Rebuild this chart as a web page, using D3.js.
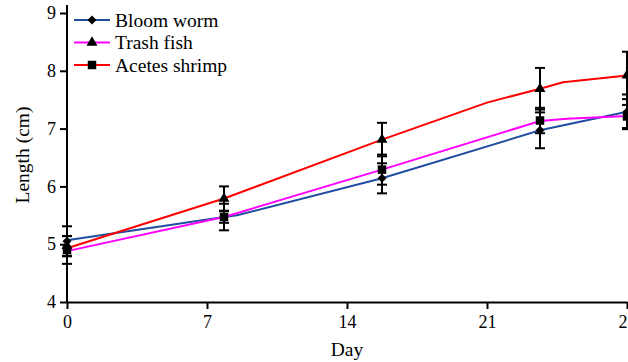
<!DOCTYPE html>
<html>
<head>
<meta charset="utf-8">
<script src="https://cdn.jsdelivr.net/npm/d3@7"></script>
<style>
  body { margin: 0; background: #fff; }
  svg text { font-family: "Liberation Serif", "DejaVu Serif", serif; }
</style>
</head>
<body>
<div id="chart"></div>
<script>
// x positions of the sampled days (markers + error bars)
const pointDays = [0, 7.85, 15.75, 23.65, 28];

// markers as drawn on the plot
const diamondVals = [5.05, 5.47, 6.14, 6.97, 7.29];
const diamondErr = [0.26, 0.1, 0.26, 0.31, 0.3];
const triangleVals = [4.97, 5.79, 6.81, 7.69, 7.92];
const triangleErr = [0.17, 0.21, 0.29, 0.36, 0.41];
const squareVals = [4.9, 5.47, 6.29, 7.14, 7.21];
const squareErr = [0.24, 0.23, 0.26, 0.22, 0.2];

// the coloured lines
const bloomDays = [0, 7.85, 8.5, 15.75, 23.65, 28];
const bloomLine = [5.07, 5.47, 5.5, 6.14, 6.97, 7.29];
const trashDays = [0, 7.85, 15.75, 23.65, 25, 28];
const trashLine = [4.88, 5.47, 6.29, 7.13, 7.17, 7.22];
const acetesDays = [0, 7.85, 15.75, 21, 23.65, 24.8, 28];
const acetesLine = [4.93, 5.79, 6.81, 7.45, 7.69, 7.8, 7.92];

const xTicks = [0, 7, 14, 21, 28];
const yTicks = [4, 5, 6, 7, 8, 9];

const legendNames = ["Bloom worm", "Trash fish", "Acetes shrimp"];
const legendColors = ["#1f4d9f", "#ff00ff", "#ff0000"];
const legendShapes = ["diamond", "triangle", "square"];

const width = 628, height = 362;
const serif = "'Liberation Serif', 'DejaVu Serif', serif";

const svg = d3.select("#chart").append("svg")
    .attr("width", width)
    .attr("height", height);

const x = d3.scaleLinear().domain([0, 28]).range([67, 627]);
const y = d3.scaleLinear().domain([4, 9]).range([302, 13]);

function symbolPath(shape) {
    if (shape === "triangle") return d3.symbol(d3.symbolTriangle, 52)();
    if (shape === "square") return d3.symbol(d3.symbolSquare, 72)();
    return d3.symbol(d3.symbolSquare, 40)();
}
function symbolRotate(shape) {
    return shape === "diamond" ? " rotate(45)" : "";
}

// axes
const yAxis = svg.append("g")
    .attr("transform", `translate(${x(0)},0)`)
    .call(d3.axisLeft(y).tickValues(yTicks).tickFormat(d3.format("d"))
        .tickSize(7).tickSizeOuter(0).tickPadding(4));

const xAxis = svg.append("g")
    .attr("transform", `translate(0,${y(4)})`)
    .call(d3.axisBottom(x).tickValues(xTicks).tickFormat(d3.format("d"))
        .tickSize(7).tickSizeOuter(0).tickPadding(6));

[yAxis, xAxis].forEach(ax => {
    ax.attr("font-family", serif).attr("font-size", 18);
    ax.selectAll("path, line").attr("stroke", "#000").attr("stroke-width", 2);
    ax.selectAll("text").attr("fill", "#000");
});
yAxis.select(".domain").attr("d", `M0,${y(4)}V${y(9) - 8}`);

svg.append("text")
    .attr("x", x(14))
    .attr("y", 356)
    .attr("text-anchor", "middle")
    .attr("font-family", serif)
    .attr("font-size", 19.5)
    .text("Day");

svg.append("text")
    .attr("transform", `translate(29,155) rotate(-90)`)
    .attr("text-anchor", "middle")
    .attr("font-family", serif)
    .attr("font-size", 19.5)
    .text("Length (cm)");

// lines
const line = d3.line()
    .x(d => x(d[0]))
    .y(d => y(d[1]));

const lineSets = [
    [bloomDays, bloomLine, legendColors[0]],
    [trashDays, trashLine, legendColors[1]],
    [acetesDays, acetesLine, legendColors[2]]
];

lineSets.forEach(([days, vals, color]) => {
    svg.append("path")
        .datum(d3.zip(days, vals))
        .attr("fill", "none")
        .attr("stroke", color)
        .attr("stroke-width", 2)
        .attr("d", line);
});

// error bars and markers
const markerSets = [
    [diamondVals, diamondErr, "diamond"],
    [triangleVals, triangleErr, "triangle"],
    [squareVals, squareErr, "square"]
];

markerSets.forEach(([vals, errs]) => {
    const g = svg.append("g").attr("stroke", "#000").attr("stroke-width", 2);
    pointDays.forEach((d, i) => {
        const cx = x(d);
        const top = y(vals[i] + errs[i]);
        const bot = y(vals[i] - errs[i]);
        g.append("line").attr("x1", cx).attr("x2", cx).attr("y1", top).attr("y2", bot);
        g.append("line").attr("x1", cx - 5).attr("x2", cx + 5).attr("y1", top).attr("y2", top);
        g.append("line").attr("x1", cx - 5).attr("x2", cx + 5).attr("y1", bot).attr("y2", bot);
    });
});

markerSets.forEach(([vals, errs, shape]) => {
    svg.selectAll(null)
        .data(d3.zip(pointDays, vals))
        .enter()
        .append("path")
        .attr("d", symbolPath(shape))
        .attr("transform", d => `translate(${x(d[0])},${y(d[1])})${symbolRotate(shape)}`)
        .attr("fill", "#000");
});

// legend
const legend = svg.append("g");
legendNames.forEach((name, i) => {
    const ly = 20 + i * 22.5;
    legend.append("line")
        .attr("x1", 74).attr("x2", 110)
        .attr("y1", ly).attr("y2", ly)
        .attr("stroke", legendColors[i])
        .attr("stroke-width", 2);
    legend.append("path")
        .attr("d", symbolPath(legendShapes[i]))
        .attr("transform", `translate(92,${ly})${symbolRotate(legendShapes[i])}`)
        .attr("fill", "#000");
    legend.append("text")
        .attr("x", 115)
        .attr("y", ly + 6.5)
        .attr("font-family", serif)
        .attr("font-size", 19.5)
        .text(name);
});
</script>
</body>
</html>
